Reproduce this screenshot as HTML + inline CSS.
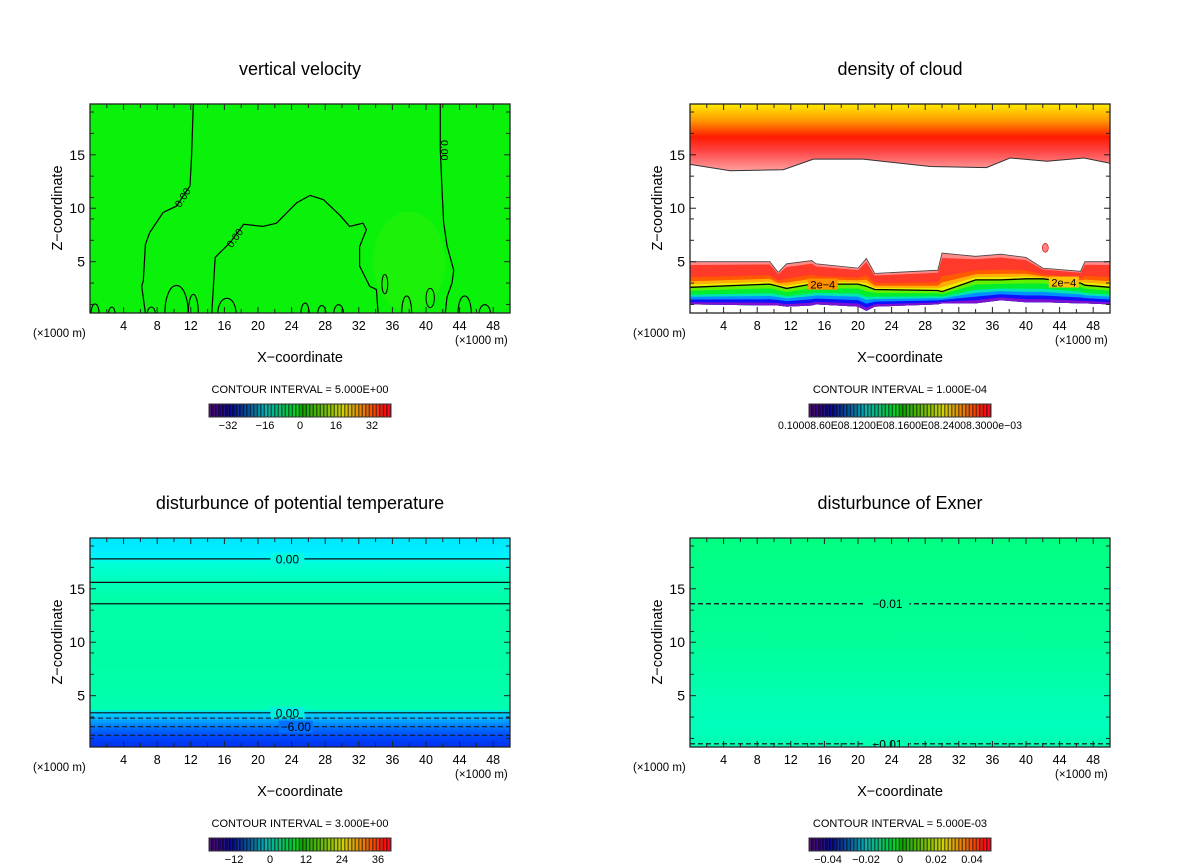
<!DOCTYPE html>
<html><head><meta charset="utf-8">
<style>
html,body{margin:0;padding:0;background:#fff;}
svg{display:block;font-family:"Liberation Sans","DejaVu Sans",sans-serif;}
</style></head>
<body>
<svg id="fig" width="1200" height="868" viewBox="0 0 1200 868" xmlns="http://www.w3.org/2000/svg"></svg>
<script>
// ---------- data ----------
const xTickLabels = [4,8,12,16,20,24,28,32,36,40,44,48];
const zTickLabels = [5,10,15];
const panelTitles = ["vertical velocity","density of cloud","disturbunce of potential temperature","disturbunce of Exner"];
const contourIntervals = ["CONTOUR INTERVAL = 5.000E+00","CONTOUR INTERVAL = 1.000E-04","CONTOUR INTERVAL = 3.000E+00","CONTOUR INTERVAL = 5.000E-03"];
const cbarLabelsW = ["-32","-16","0","16","32"];
const cbarLabelsT = ["-12","0","12","24","36"];
const cbarLabelsE = ["-0.04","-0.02","0","0.02","0.04"];
// vertical velocity zero contours (x km, z km)
const wLeftX = [12.3,12.1,11.9,10.3,8.7,7.1,6.6,6.35,6.15,6.6];
const wLeftZ = [19.8,14.9,12.1,10.2,9.6,7.7,6.6,3.2,2.7,0.2];
const wDomeX = [14.5,14.9,16.7,18.3,20.6,22.2,24.6,26.2,27.8,29.8,30.9,32.5,32.9,32.1,32.1,33.3,34.1,34.3];
const wDomeZ = [0.2,5.4,6.8,8.5,8.3,8.6,10.5,11.2,10.8,9.3,8.3,8.6,8.0,6.4,4.6,2.7,2.4,0.2];
const wRightX = [41.7,41.7,41.9,42.1,42.5,43.3,43.1,42.5,42.3];
const wRightZ = [19.8,15.5,11.8,8.7,6.5,4.2,3.0,1.7,0.2];
const bumpX = [0.6,2.6,7.3,10.3,12.3,16.3,25.6,27.6,29.6,37.7,44.6,47.0];
const bumpH = [1.4,1.0,1.0,3.7,2.6,2.1,1.5,1.2,1.3,2.4,2.4,1.3];
const bumpW = [0.5,0.4,0.5,1.4,0.6,1.1,0.5,0.5,0.6,0.6,0.8,0.7];
// cloud density: upper layer lower boundary
const cUpX = [0,4.8,11.1,14.7,20.6,28.6,35.3,38.1,42.5,46.9,50];
const cUpZ = [14.1,13.5,13.6,14.6,14.6,13.9,13.8,14.7,14.4,14.7,14.2];
// cloud density: lower layer top, 2e-4 contour, bottom
const cLowX = [0,9.5,10.5,11.5,14.5,15,20,21,22,29.5,30,34,37,40,42,46.5,47,50];
const cLowTop = [5.0,5.0,4.0,4.8,5.1,4.8,4.4,5.3,3.9,4.2,5.8,5.5,5.7,5.4,4.4,4.1,5.0,5.0];
const cLowCtr = [2.6,2.9,2.7,2.5,2.9,2.9,2.9,2.7,2.4,2.3,2.2,3.3,3.3,3.4,3.4,3.0,2.8,2.6];
const cLowBot = [1.0,0.9,0.9,0.8,0.9,1.0,0.8,0.4,0.8,1.0,1.1,1.1,1.4,1.2,1.2,1.1,1.1,1.0];
// potential temperature contour levels (z km)
const thLevels = [17.8,15.6,13.6,3.4,2.9,2.1,1.3];
const thDashed = [false,false,false,false,true,true,true];
const thLabels = ["0.00","","","0.00","","-6.00",""];
// exner contour levels
const exLevels = [13.6,0.5];
const exLabels = ["-0.01","-0.01"];

// ---------- helpers ----------
const NS="http://www.w3.org/2000/svg";
const svg=document.getElementById('fig');
function mk(tag,attrs,parent){const e=document.createElementNS(NS,tag);for(const k in attrs)e.setAttribute(k,attrs[k]);(parent||svg).appendChild(e);return e;}
const PX0=90, PX1=510, PY0=104, PY1=313, ZMIN=0.2, ZMAX=19.75, XMAX=50;
function sx(ox,x){return ox+PX0+(x/XMAX)*(PX1-PX0);}
function sz(oy,z){return oy+PY1-((z-ZMIN)/(ZMAX-ZMIN))*(PY1-PY0);}
function linePath(ox,oy,xs,zs){return xs.map((x,i)=>(i?'L':'M')+sx(ox,x).toFixed(1)+','+sz(oy,zs[i]).toFixed(1)).join(' ');}

function frame(ox,oy,idx){
  const g=mk('g',{});
  
  
  const t=mk('text',{x:ox+300,y:oy+75,'font-size':18,'text-anchor':'middle',fill:'#000'},g);
  t.textContent=panelTitles[idx];
  
  
  const r=mk('rect',{x:ox+PX0,y:oy+PY0,width:PX1-PX0,height:PY1-PY0,fill:'none',stroke:'#222','stroke-width':1.3},g);
  
  
  for(let x=2;x<50;x+=2){
    const L=(x%4===0)?6:4;
    const X=sx(ox,x);
    const a=mk('line',{x1:X,x2:X,y1:oy+PY1,y2:oy+PY1-L,stroke:'#222'},g);
    
    
    mk('line',{x1:X,x2:X,y1:oy+PY0,y2:oy+PY0+L,stroke:'#222'},g);
  }
  const zt=[1,3,5,7,9,10,11,13,15,17,19];
  zt.forEach(z=>{
    const L=(z%5===0)?6:4;const Y=sz(oy,z);
    const a=mk('line',{x1:ox+PX0,x2:ox+PX0+L,y1:Y,y2:Y,stroke:'#222'},g);
    
    
    mk('line',{x1:ox+PX1,x2:ox+PX1-L,y1:Y,y2:Y,stroke:'#222'},g);
  });
  xTickLabels.forEach(v=>{
    const e=mk('text',{x:sx(ox,v),y:oy+PY1+17,'font-size':12.5,'text-anchor':'middle'},g);
    e.textContent=v;
    
    
  });
  zTickLabels.forEach(v=>{
    const e=mk('text',{x:ox+85,y:sz(oy,v)+5,'font-size':14,'text-anchor':'end'},g);
    e.textContent=v;
    
    
  });
  const u1=mk('text',{x:ox+33,y:oy+337,'font-size':11.5},g);u1.textContent='(\u00d71000 m)';
  
  
  const u2=mk('text',{x:ox+455,y:oy+344,'font-size':11.5},g);u2.textContent='(\u00d71000 m)';
  
  
  const xl=mk('text',{x:ox+300,y:oy+362,'font-size':14.5,'text-anchor':'middle'},g);xl.textContent='X\u2212coordinate';
  
  
  const zl=mk('text',{x:0,y:0,'font-size':14.5,'text-anchor':'middle',transform:`translate(${ox+62},${oy+208}) rotate(-90)`},g);zl.textContent='Z\u2212coordinate';
  
  
  const ci=mk('text',{x:ox+300,y:oy+393,'font-size':11,'text-anchor':'middle'},g);
  ci.textContent=contourIntervals[idx];
  
  
}

function colorbar(ox,oy,labels,labelPos){
  const g=mk('g',{});
  
  
  const x0=ox+209,x1=ox+391,y0=oy+404,h=13,n=52,w=(x1-x0)/n;
  for(let i=0;i<n;i++){
    const t=i/(n-1);
    let hue,light;
    if(t<0.5){hue=275-(t/0.5)*155;light=22+t*40;}
    else{hue=120-((t-0.5)/0.5)*125;light=32+(t-0.5)*40;}
    if(hue<0)hue+=360;
    const c=`hsl(${hue.toFixed(0)},100%,${light.toFixed(0)}%)`;
    const r=mk('rect',{x:x0+i*w,y:y0,width:w*0.55,height:h,fill:c},g);
    
    
    mk('rect',{x:x0+i*w+w*0.55,y:y0,width:w*0.45,height:h,fill:`hsl(${hue.toFixed(0)},80%,${(light*0.55).toFixed(0)}%)`},g);
  }
  mk('rect',{x:x0,y:y0,width:x1-x0,height:h,fill:'none',stroke:'#333','stroke-width':1},g);
  labels.forEach((l,i)=>{
    const e=mk('text',{x:ox+labelPos[i],y:oy+429,'font-size':11,'text-anchor':'middle'},g);
    e.textContent=l.replace('-','\u2212');
    
    
  });
}

function clip(ox,oy,id){
  const d=mk('defs',{});const c=mk('clipPath',{id:id},d);
  mk('rect',{x:ox+PX0,y:oy+PY0,width:PX1-PX0,height:PY1-PY0},c);
}

// ---------- panel 1: vertical velocity ----------
(function(){
  const ox=0,oy=0;
  clip(ox,oy,'c1');
  const g=mk('g',{'clip-path':'url(#c1)'});
  
  
  const bg=mk('rect',{x:ox+PX0,y:oy+PY0,width:420,height:209,fill:'#0af20a'},g);
  
  
  const rg=mk('ellipse',{cx:sx(ox,38),cy:sz(oy,5),rx:36,ry:50,fill:'#40f00a',opacity:0.35},g);
  
  
  [[wLeftX,wLeftZ],[wDomeX,wDomeZ],[wRightX,wRightZ]].forEach(([xs,zs])=>{
    const p=mk('path',{d:linePath(ox,oy,xs,zs),fill:'none',stroke:'#000','stroke-width':1.2},g);
    
    
  });
  bumpX.forEach((x,i)=>{
    const a=sx(ox,x-bumpW[i]),b=sx(ox,x+bumpW[i]),y0=sz(oy,0),yt=sz(oy,bumpH[i]);
    const p=mk('path',{d:`M${a},${y0} C${a},${yt} ${b},${yt} ${b},${y0}`,fill:'none',stroke:'#000','stroke-width':1.1},g);
    
    
  });
  const lp=[[35.1,2.9,0.35,0.9],[40.5,1.6,0.5,0.9]];
  lp.forEach(q=>{
    const e=mk('ellipse',{cx:sx(ox,q[0]),cy:sz(oy,q[1]),rx:q[2]*8.4,ry:q[3]*10.7,fill:'none',stroke:'#000','stroke-width':1},g);
    
    
  });
  [[11.4,11.2,-58],[17.6,7.4,-55],[41.8,15.8,90]].forEach(q=>{
    const t=mk('text',{x:0,y:0,'font-size':10.5,'text-anchor':'middle',transform:`translate(${sx(ox,q[0])},${sz(oy,q[1])+4}) rotate(${q[2]})`},g);
    t.textContent='0.00';
    
    
  });
  frame(ox,oy,0);
  colorbar(ox,oy,cbarLabelsW,[228,265,300,336,372]);
})();

// ---------- panel 2: density of cloud ----------
(function(){
  const ox=600,oy=0;
  clip(ox,oy,'c2');
  const defs=mk('defs',{});
  const lg=mk('linearGradient',{id:'gUp',gradientUnits:'userSpaceOnUse',x1:0,y1:sz(oy,19.8),x2:0,y2:sz(oy,13.5)},defs);
  [[0,'#ffee00'],[0.25,'#ff9a00'],[0.5,'#ff1a00'],[0.72,'#ff4848'],[1,'#ffa0a0']].forEach(s=>mk('stop',{offset:s[0],'stop-color':s[1]},lg));
  const g=mk('g',{'clip-path':'url(#c2)'});
  
  
  mk('rect',{x:ox+PX0,y:oy+PY0,width:420,height:209,fill:'#fff'},g);
  let d='M'+sx(ox,0)+','+sz(oy,21)+' '+cUpX.map((x,i)=>'L'+sx(ox,x).toFixed(1)+','+sz(oy,cUpZ[i]).toFixed(1)).join(' ')+' L'+sx(ox,50)+','+sz(oy,21)+'Z';
  const up=mk('path',{d:d,fill:'url(#gUp)'},g);
  
  
  const upl=mk('path',{d:linePath(ox,oy,cUpX,cUpZ),fill:'none',stroke:'#333','stroke-width':1},g);
  
  
  const layers=[[0,'#ff8a8a'],[0.07,'#ff3a2a'],[0.33,'#ff5a00'],[0.42,'#ffb000'],[0.49,'#e8f000'],[0.56,'#60f000'],[0.64,'#00ee30'],[0.74,'#00e6b0'],[0.8,'#0090ff'],[0.87,'#1010ff'],[0.94,'#8010d0']];
  function lvl(i,f){const top=cLowTop[i],ctr=cLowCtr[i],bot=cLowBot[i];
    if(f<=0.55)return top+(ctr-top)*(f/0.55);return ctr+(bot-ctr)*((f-0.55)/0.45);}
  layers.forEach(L=>{
    const xs=cLowX;let p='';
    xs.forEach((x,i)=>{p+=(i?'L':'M')+sx(ox,x).toFixed(1)+','+sz(oy,lvl(i,L[0])).toFixed(1)+' ';});
    for(let i=xs.length-1;i>=0;i--)p+='L'+sx(ox,xs[i]).toFixed(1)+','+sz(oy,cLowBot[i]).toFixed(1)+' ';
    const e=mk('path',{d:p+'Z',fill:L[1]},g);
    
    
  });
  const tl=mk('path',{d:linePath(ox,oy,cLowX,cLowTop),fill:'none',stroke:'#444','stroke-width':0.8},g);
  
  
  const cl=mk('path',{d:linePath(ox,oy,cLowX,cLowCtr),fill:'none',stroke:'#000','stroke-width':1.3},g);
  
  
  [[15.8,'#ff9000'],[44.5,'#ffc000']].forEach(q=>{
    const z=2.85+(q[0]>40?0.2:0);
    mk('rect',{x:sx(ox,q[0])-15,y:sz(oy,z)-6,width:30,height:11,fill:q[1]},g);
    const t=mk('text',{x:sx(ox,q[0]),y:sz(oy,z)+4,'font-size':11,'text-anchor':'middle'},g);
    t.textContent='2e\u22124';
    
    
  });
  const el=mk('ellipse',{cx:sx(ox,42.3),cy:sz(oy,6.3),rx:3,ry:4.5,fill:'#ff8080',stroke:'#c00','stroke-width':0.6},g);
  
  
  frame(ox,oy,1);
  colorbar(ox,oy,[],[]);
  const cb=mk('text',{x:ox+300,y:429,'font-size':11,'text-anchor':'middle',textLength:244,lengthAdjust:'spacingAndGlyphs'});
  cb.textContent='0.10008.60E08.1200E08.1600E08.24008.3000e\u221203';
  
  
})();

// ---------- panel 3: potential temperature ----------
(function(){
  const ox=0,oy=434;
  clip(ox,oy,'c3');
  const defs=mk('defs',{});
  const lg=mk('linearGradient',{id:'gTh',gradientUnits:'userSpaceOnUse',x1:0,y1:sz(oy,19.8),x2:0,y2:sz(oy,0.2)},defs);
  [[0,'#00e6ff'],[0.1,'#00f4ff'],[0.12,'#00ffd8'],[0.22,'#00ffb8'],[0.3,'#00ffa8'],[0.6,'#00ffa4'],[0.82,'#00ffb0'],[0.835,'#00d8ff'],[0.87,'#00a8ff'],[0.91,'#0070ff'],[0.95,'#0048ff'],[1,'#0030f0']].forEach(s=>mk('stop',{offset:s[0],'stop-color':s[1]},lg));
  const g=mk('g',{'clip-path':'url(#c3)'});
  
  
  const bg=mk('rect',{x:ox+PX0,y:oy+PY0,width:420,height:209,fill:'url(#gTh)'},g);
  
  
  thLevels.forEach((z,i)=>{
    const Y=sz(oy,z);
    const l=mk('line',{x1:ox+PX0,x2:ox+PX1,y1:Y,y2:Y,stroke:'#111','stroke-width':thDashed[i]?1:1.2,'stroke-dasharray':thDashed[i]?'5,3':'none'},g);
    
    
    if(thLabels[i]){
      const cx=sx(ox,i===5?24.5:23.5);
      mk('rect',{x:cx-17,y:Y-6,width:34,height:12,fill:i<3?'#00fbe0':(i===3?'#00f0e0':'#0070ff')},g);
      const t=mk('text',{x:cx,y:Y+4.5,'font-size':12,'text-anchor':'middle'},g);
      t.textContent=thLabels[i].replace('-','\u2212');
      
      
    }
  });
  frame(ox,oy,2);
  colorbar(ox,oy,cbarLabelsT,[234,270,306,342,378]);
})();

// ---------- panel 4: Exner ----------
(function(){
  const ox=600,oy=434;
  clip(ox,oy,'c4');
  const defs=mk('defs',{});
  const lg=mk('linearGradient',{id:'gEx',gradientUnits:'userSpaceOnUse',x1:0,y1:sz(oy,19.8),x2:0,y2:sz(oy,0.2)},defs);
  [[0,'#00ff80'],[0.5,'#00ff98'],[0.75,'#00ffb0'],[0.9,'#00ffbc'],[1,'#00ffb0']].forEach(s=>mk('stop',{offset:s[0],'stop-color':s[1]},lg));
  const g=mk('g',{'clip-path':'url(#c4)'});
  
  
  const bg=mk('rect',{x:ox+PX0,y:oy+PY0,width:420,height:209,fill:'url(#gEx)'},g);
  
  
  exLevels.forEach((z,i)=>{
    const Y=sz(oy,z);
    const l=mk('line',{x1:ox+PX0,x2:ox+PX1,y1:Y,y2:Y,stroke:'#111','stroke-width':1.2,'stroke-dasharray':'5,3'},g);
    
    
    const cx=sx(ox,23.5);
    mk('rect',{x:cx-22,y:Y-6,width:44,height:12,fill:i?'#00ffb0':'#00ff90'},g);
    const t=mk('text',{x:cx,y:Y+4.5,'font-size':12,'text-anchor':'middle'},g);
    t.textContent=exLabels[i].replace('-','\u2212');
    
    
  });
  frame(ox,oy,3);
  colorbar(ox,oy,cbarLabelsE,[828,866,900,936,972].map(v=>v-600));
})();
</script>
</body></html>
